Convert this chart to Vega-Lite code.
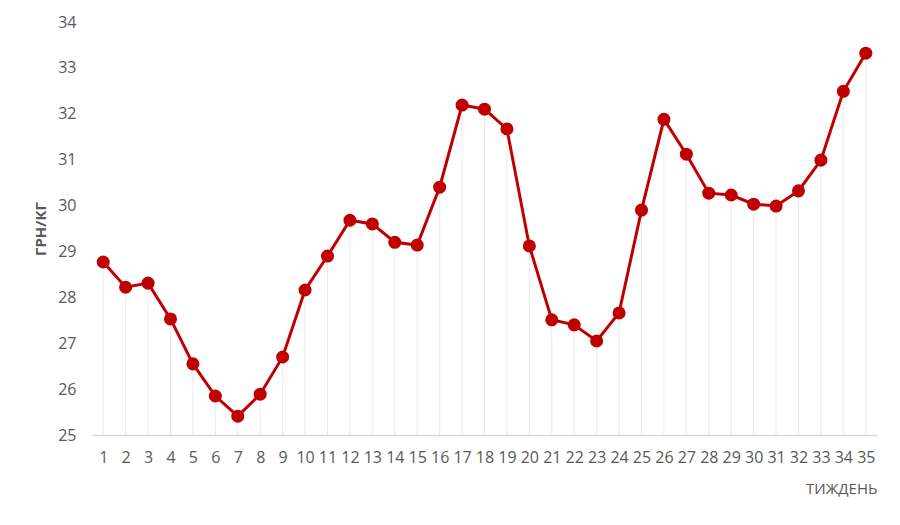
{
  "$schema": "https://vega.github.io/schema/vega-lite/v6.json",
  "width": 785,
  "height": 413,
  "autosize": {"type": "none"},
  "padding": {"left": 92, "top": 22, "right": 23, "bottom": 90},
  "background": "white",
  "config": {
    "view": {"stroke": null},
    "font": "Open Sans",
    "axis": {"labelFont": "Open Sans", "titleFont": "Open Sans", "labelColor": "#595959", "titleColor": "#595959"}
  },
  "data": {"values": [
    {"week": 1, "price": 28.77},
    {"week": 2, "price": 28.22},
    {"week": 3, "price": 28.31},
    {"week": 4, "price": 27.53},
    {"week": 5, "price": 26.55},
    {"week": 6, "price": 25.85},
    {"week": 7, "price": 25.41},
    {"week": 8, "price": 25.89},
    {"week": 9, "price": 26.70},
    {"week": 10, "price": 28.16},
    {"week": 11, "price": 28.90},
    {"week": 12, "price": 29.68},
    {"week": 13, "price": 29.60},
    {"week": 14, "price": 29.20},
    {"week": 15, "price": 29.14},
    {"week": 16, "price": 30.40},
    {"week": 17, "price": 32.19},
    {"week": 18, "price": 32.10},
    {"week": 19, "price": 31.67},
    {"week": 20, "price": 29.12},
    {"week": 21, "price": 27.51},
    {"week": 22, "price": 27.40},
    {"week": 23, "price": 27.05},
    {"week": 24, "price": 27.66},
    {"week": 25, "price": 29.90},
    {"week": 26, "price": 31.88},
    {"week": 27, "price": 31.12},
    {"week": 28, "price": 30.27},
    {"week": 29, "price": 30.23},
    {"week": 30, "price": 30.03},
    {"week": 31, "price": 29.99},
    {"week": 32, "price": 30.32},
    {"week": 33, "price": 30.99},
    {"week": 34, "price": 32.49},
    {"week": 35, "price": 33.32}
  ]},
  "encoding": {
    "x": {
      "field": "week", "type": "ordinal", "sort": null,
      "scale": {"type": "point", "padding": 0.5},
      "axis": {
        "title": "ТИЖДЕНЬ", "titleAnchor": "end", "titleFontSize": 15, "titleFontWeight": "normal",
        "titlePadding": 16, "labelAngle": 0, "labelFontSize": 16, "labelPadding": 14,
        "ticks": false, "domainColor": "#d9d9d9", "domainWidth": 1.3, "grid": false
      }
    },
    "y": {
      "field": "price", "type": "quantitative",
      "scale": {"domain": [25, 34], "zero": false, "nice": false},
      "axis": {
        "title": "ГРН/КГ", "titleFontSize": 15, "titleFontWeight": "bold", "titlePadding": 9,
        "values": [25, 26, 27, 28, 29, 30, 31, 32, 33, 34], "labelFontSize": 16, "labelPadding": 16,
        "ticks": false, "domain": false, "grid": false
      }
    }
  },
  "layer": [
    {
      "mark": {"type": "rule", "color": "#ebebeb", "strokeWidth": 1},
      "encoding": {
        "y2": {"datum": 25}
      }
    },
    {
      "mark": {"type": "line", "color": "#c00000", "strokeWidth": 3},
      "encoding": {}
    },
    {
      "mark": {"type": "point", "filled": true, "color": "#c00000", "opacity": 1, "size": 170},
      "encoding": {}
    }
  ]
}
